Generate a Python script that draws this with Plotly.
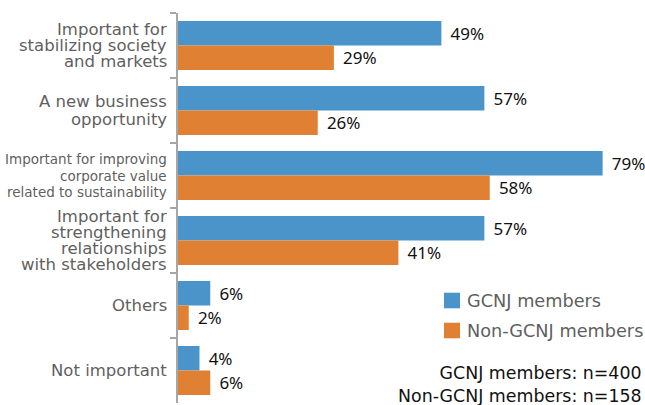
import plotly.graph_objects as go

categories = [
    "Important for<br>stabilizing society<br>and markets",
    "A new business<br>opportunity",
    "Important for improving<br>corporate value<br>related to sustainability",
    "Important for<br>strengthening<br>relationships<br>with stakeholders",
    "Others",
    "Not important",
]
gcnj = [49, 57, 79, 57, 6, 4]
non_gcnj = [29, 26, 58, 41, 2, 6]
series_names = ["GCNJ members", "Non-GCNJ members"]
sample_note = "GCNJ members: n=400<br>Non-GCNJ members: n=158"

blue = "#4a94c9"
orange = "#e08033"
axis_gray = "#a6a6a6"
label_gray = "#5f5f5f"

W, H = 645, 405
ML, MR, MT, MB = 178, 37, 13, 2


def px_x(x):
    # page pixel -> paper fraction
    return (x - ML) / (W - ML - MR)


def px_y(y):
    return (H - MB - y) / (H - MT - MB)


fig = go.Figure()
for name, vals, color in [(series_names[0], gcnj, blue), (series_names[1], non_gcnj, orange)]:
    fig.add_trace(go.Bar(
        x=vals, y=categories, orientation="h", name=name,
        marker=dict(color=color, line=dict(width=0)),
        texttemplate="\u00a0\u200a%{x}%", textposition="outside",
        textfont=dict(family="Noto Sans", size=17, color="#111111"),
        constraintext="none", cliponaxis=False,
    ))

# category labels, one annotation per line so the line spacing can be tight
for cat in categories:
    lines = cat.split("<br>")
    n = len(lines)
    size = 13.5 if "improving" in cat else 16.5
    step = 16.3 if n > 2 else 17.7
    for i, line in enumerate(lines):
        fig.add_annotation(
            x=0, xref="paper", y=cat, yref="y", text=line, showarrow=False,
            xanchor="right", yanchor="middle", xshift=-9,
            yshift=((n - 1) / 2 - i) * step,
            font=dict(family="DejaVu Sans", size=size, color=label_gray),
        )

# hand-made legend (plotly's own legend pushes the margins here)
for k, (name, color) in enumerate(zip(series_names, [blue, orange])):
    top = 292.7 + 30 * k
    fig.add_shape(type="rect", xref="paper", yref="paper",
                  x0=px_x(444), x1=px_x(460), y0=px_y(top), y1=px_y(top + 15.6),
                  fillcolor=color, line=dict(width=0))
    fig.add_annotation(x=px_x(465), y=px_y(top + 8), xref="paper", yref="paper",
                       text=name, showarrow=False, xanchor="left", yanchor="middle",
                       font=dict(family="DejaVu Sans", size=17.7, color=label_gray))

fig.add_annotation(
    x=px_x(644), xref="paper", y=0, yref="paper", text=sample_note, showarrow=False,
    xanchor="right", yanchor="bottom", align="right", yshift=-5,
    font=dict(family="DejaVu Sans", size=17.4, color="#111111"),
)

fig.update_layout(
    width=W, height=H,
    margin=dict(l=ML, r=MR, t=MT, b=MB),
    paper_bgcolor="white", plot_bgcolor="white",
    barmode="group", bargap=0.246, bargroupgap=0,
    font=dict(family="DejaVu Sans"),
    showlegend=False,
)
fig.update_xaxes(range=[0, 80], visible=False, showgrid=False, zeroline=False)
fig.update_yaxes(
    categoryorder="array", categoryarray=categories, autorange="reversed",
    showticklabels=False, showgrid=False, zeroline=False,
    showline=True, linecolor=axis_gray, linewidth=1.5,
    ticks="outside", tickson="boundaries", ticklen=6, tickcolor=axis_gray, tickwidth=1.5,
)

fig.write_html("out.html", config={"displayModeBar": False},
               post_script="document.body.style.margin='0';")
